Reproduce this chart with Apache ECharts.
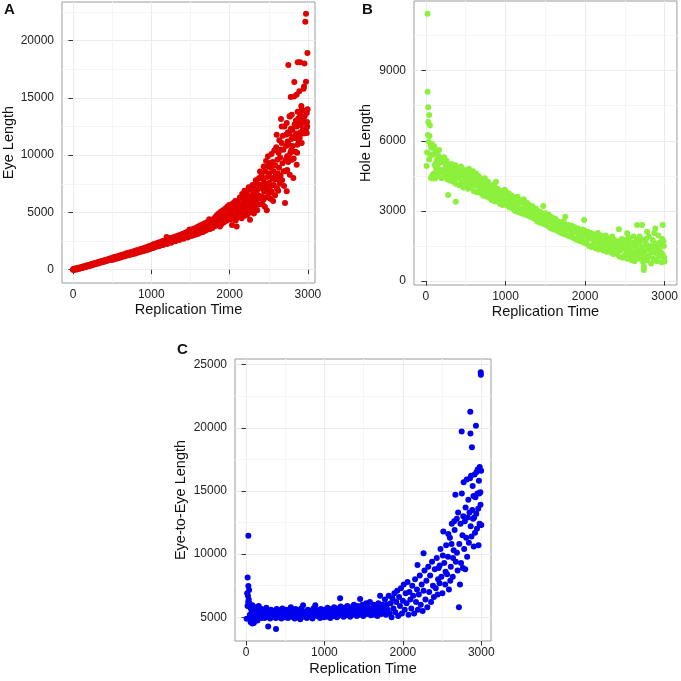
<!DOCTYPE html>
<html>
<head>
<meta charset="utf-8" />
<title></title>
<script src="https://cdn.jsdelivr.net/npm/echarts@6/dist/echarts.min.js"></script>
<style>
  html, body { margin: 0; padding: 0; background: #fff; }
  #divChart { width: 681px; height: 681px; }
</style>
</head>
<body>
<div id="divChart"></div>
<script>
// tick values
let timeTicks = [0, 1000, 2000, 3000];
let timeMinor = [500, 1500, 2500];
let eyeTicks = [0, 5000, 10000, 15000, 20000];
let eyeMinor = [2500, 7500, 12500, 17500, 22500];
let holeTicks = [0, 3000, 6000, 9000];
let holeMinor = [1500, 4500, 7500, 10500];
let e2eTicks = [5000, 10000, 15000, 20000, 25000];
let e2eMinor = [7500, 12500, 17500, 22500];

// A: replication time vs eye length
let eyeLength = [
  [0,0],[5,60],[12,-20],[18,90],[25,30],[32,110],[40,50],[47,20],[55,140],[62,80],[70,170],[77,110],[85,90],
  [92,200],[100,150],[107,230],[115,190],[122,160],[130,270],[137,210],[145,300],[152,240],[160,220],[167,340],
  [175,290],[182,380],[190,320],[197,300],[205,420],[212,350],[220,450],[227,400],[235,370],[242,490],[250,430],
  [257,540],[265,470],[272,450],[280,570],[287,510],[295,600],[302,540],[310,520],[317,650],[325,580],[332,690],
  [340,620],[347,600],[355,720],[362,650],[370,760],[377,690],[385,670],[392,800],[400,720],[407,830],[415,760],
  [422,740],[430,870],[437,800],[445,910],[452,840],[460,820],[467,950],[475,880],[482,990],[490,920],[497,900],
  [505,1000],[512,870],[520,1080],[527,960],[535,1020],[542,1130],[550,950],[557,1070],[565,1160],[572,1000],
  [580,1120],[587,1220],[595,1040],[602,1180],[610,1260],[617,1080],[625,1210],[632,1310],[640,1150],[647,1260],
  [655,1360],[662,1170],[670,1300],[677,1420],[685,1230],[692,1350],[700,1450],[707,1270],[715,1380],[722,1500],
  [730,1300],[737,1430],[745,1530],[752,1350],[760,1470],[767,1600],[775,1390],[782,1520],[790,1640],[797,1420],
  [805,1560],[812,1690],[820,1470],[827,1600],[835,1730],[842,1520],[850,1640],[857,1780],[865,1560],[872,1700],
  [880,1820],[887,1610],[895,1740],[902,1880],[910,1650],[917,1790],[925,1930],[932,1700],[940,1850],[947,1990],
  [955,1740],[962,1900],[970,2040],[977,1790],[985,1940],[992,2100],
  [1000,1880],[1008,2050],[1015,2180],[1023,1900],[1030,2100],[1038,2250],[1045,1960],[1053,2130],[1060,2000],
  [1068,2300],[1075,2080],[1083,2200],[1090,2380],[1098,2050],[1105,2250],[1113,2130],[1120,2420],[1128,2180],
  [1135,2320],[1143,2500],[1150,2150],[1158,2370],[1165,2260],[1173,2560],[1180,2300],[1188,2450],[1196,2850],
  [1195,2620],[1203,2250],[1210,2480],[1218,2380],[1225,2700],[1233,2420],[1240,2580],[1248,2760],[1255,2350],
  [1263,2620],[1270,2500],[1278,2820],[1285,2550],[1293,2700],[1300,2880],[1308,2480],[1315,2750],[1323,2620],
  [1330,2950],[1338,2680],[1345,2820],[1353,3000],[1360,2600],[1368,2880],[1375,2750],[1383,3080],[1390,2800],
  [1398,2950],[1405,3150],[1413,2700],[1420,3000],[1428,2880],[1435,3220],[1443,2920],[1450,3080],[1458,3300],
  [1465,2820],[1473,3150],[1480,3000],[1488,3500],[1495,3050],
  [1503,3250],[1510,2950],[1518,3400],[1525,3100],[1533,3550],[1540,3000],[1548,3300],[1555,3200],[1563,3650],
  [1570,3080],[1578,3420],[1585,3300],[1593,3750],[1600,3150],[1608,3500],[1615,3400],[1623,3850],[1630,3250],
  [1638,3600],[1645,3450],[1653,3950],[1660,3300],[1668,3700],[1675,3550],[1683,4050],[1690,3400],[1698,3800],
  [1705,3650],[1713,4150],[1720,3500],[1728,3900],[1735,3750],[1740,4400],[1743,4250],[1750,3550],[1758,4000],
  [1765,3850],[1773,4350],[1780,3650],[1788,4100],[1795,3950],
  [1800,4450],[1806,3800],[1812,4050],[1818,4600],[1824,4250],[1830,3850],[1836,4750],[1842,4100],[1848,4450],
  [1854,3900],[1860,4900],[1866,4300],[1872,4600],[1877,3780],[1880,4150],[1886,5050],[1892,4450],[1898,4000],
  [1904,4800],[1910,4300],[1916,5200],[1922,4600],[1928,4150],[1934,5000],[1940,4450],[1946,5350],[1952,4250],
  [1958,4900],[1964,4650],[1970,5500],[1976,4350],[1982,5100],[1988,4800],[1994,5650],[2000,4550],[2005,5300],
  [2006,4900],[2012,4400],[2018,5500],[2024,5050],[2030,3900],[2036,4700],[2042,5800],[2048,5200],[2054,4500],
  [2060,5400],[2066,4850],[2072,6000],[2078,4300],[2084,5150],[2090,3780],[2090,5600],[2096,4700],[2100,5250],
  [2106,6000],[2112,4600],[2118,5400],[2124,5000],[2130,6300],[2136,4800],[2142,5700],[2148,5200],[2154,4500],
  [2160,6600],[2166,5500],[2172,4900],[2178,6100],[2184,5300],[2190,6900],[2196,4700],[2202,5800],[2208,6400],
  [2214,5100],[2218,5670],[2220,6700],[2226,4800],[2232,6000],[2238,5400],[2244,7200],[2250,5700],[2256,5000],
  [2260,4360],[2262,6400],[2268,7000],[2274,5500],[2280,6100],[2286,5200],[2292,7400],[2298,6600],[2304,5800],
  [2310,4900],[2316,7100],[2322,6300],[2328,5400],[2334,7800],[2340,6000],[2346,6900],[2352,5200],[2358,7500],
  [2364,6500],[2370,5700],[2376,8000],[2382,7100],[2388,8580],[2394,6200],[2400,7400],
  [2405,6400],[2410,8300],[2415,7200],[2420,5700],[2425,7900],[2430,6110],[2435,9000],[2440,6800],[2445,7600],
  [2450,5500],[2455,8600],[2460,7300],[2465,9500],[2470,6300],[2475,5200],[2480,8100],[2485,7000],[2490,9900],
  [2494,9030],[2500,6600],[2505,8400],[2510,7600],[2516,9310],[2520,6200],[2525,8900],[2530,7300],[2535,10100],
  [2540,6800],[2545,8000],[2550,9400],[2555,6000],[2560,8600],[2565,7400],[2570,10400],[2575,7900],[2580,6500],
  [2585,9100],[2590,8300],[2595,10700],[2601,11790],[2605,7100],[2610,9600],[2615,8400],[2620,6900],[2622,7860],
  [2625,10200],[2630,8900],[2635,11300],[2640,7500],[2645,9800],[2650,8200],[2656,13150],[2660,10500],[2665,11060],
  [2665,12510],[2670,7800],[2675,9300],[2680,11700],[2686,10480],[2690,8600],[2695,7300],[2700,12500],
  [2707,5820],[2710,8600],[2715,9600],[2720,10800],[2725,11800],[2729,6840],[2729,12800],[2733,9900],[2735,8700],
  [2740,11200],[2745,12000],[2748,9400],[2750,17870],[2755,9900],[2758,10900],[2762,11900],[2765,13400],[2768,8300],
  [2771,13380],[2775,10200],[2780,15080],[2783,12300],[2785,10400],[2790,11400],[2793,13530],[2796,9600],[2800,12200],
  [2805,10800],[2810,11600],[2814,8000],[2818,9700],[2822,15130],[2826,16390],[2830,12700],[2835,11500],[2840,10300],
  [2845,13000],[2850,11900],[2855,15280],[2856,9170],[2856,12510],[2862,10200],[2865,10900],[2868,13800],[2870,18100],
  [2875,13200],[2880,11300],[2885,11800],[2888,12900],[2890,15570],[2895,11500],[2900,18100],[2900,13530],[2905,12000],
  [2910,12600],[2915,14300],[2920,13970],[2920,11060],[2925,12900],[2930,13300],[2935,12200],[2941,13900],[2945,15800],
  [2948,11900],[2950,16000],[2955,18000],[2958,13400],[2960,12900],[2966,21650],[2970,12100],[2975,22350],[2975,16410],
  [2980,12400],[2985,13680],[2985,11930],[2988,12900],[2990,12510],[2993,18920],[2995,14000]
];

// B: replication time vs hole length
let holeLength = [
  [20,11430],[21,8100],[29,7430],[41,7100],[30,6800],[50,6650],[25,6250],[45,6200],[35,5960],[8,4920],
  [60,5800],[70,5700],[15,5500],[55,5400],[80,5850],[40,5200],[71,4460],[112,4390],[95,4500],[130,4450],
  [150,4600],[279,3680],[375,3390],[65,4400],[85,4550],[105,5750],[125,5050],[145,4850],[165,5600],[185,4750],
  [90,5400],[100,4600],[110,4950],[120,5550],[130,4800],[140,5200],[150,4500],[160,5350],[170,5050],[180,4650],[190,5250],
  [200,4400],[205,4650],[210,5100],[220,4750],[230,5300],[235,5150],[240,4550],[250,4950],[260,5150],[265,4600],
  [270,4350],[280,4800],[290,5000],[295,4450],
  [300,4300],[310,4850],[320,4600],[325,4450],[330,5000],[340,4250],[350,4700],[355,4800],[360,4450],[370,4950],
  [380,4150],[385,4400],[390,4600],
  [400,4850],[410,4400],[415,4750],[420,4100],[430,4650],[440,4900],[445,4500],[450,4250],[460,4550],[470,4000],
  [475,4700],[480,4750],[490,4350],
  [500,4100],[505,4450],[510,4650],[520,4300],[530,3950],[535,4250],[540,4800],[550,4450],[560,4050],[565,4650],
  [570,4550],[580,4200],[590,4700],[595,4350],
  [600,3850],[610,4400],[620,4100],[625,4250],[630,4600],[640,3800],[650,4250],[655,4100],[660,4500],[670,3900],
  [680,4150],[685,4400],[690,3750],
  [700,4300],[710,3950],[715,4100],[720,3650],[730,4150],[740,4400],[745,3850],[750,3750],[760,4050],[770,3600],
  [775,4000],[780,4250],[790,3850],
  [800,3550],[805,3950],[810,4100],[820,3800],[830,3450],[835,3700],[840,3950],[850,3700],[860,4150],[865,3800],
  [870,3400],[880,4250],[883,3900],[890,3600],
  [900,3950],[910,3400],[920,3700],[930,3300],[940,3850],[950,3550],[960,3250],[970,3750],[980,3450],[990,3900],
  [1000,3820],[1010,3250],[1020,3600],[1030,3400],[1040,3750],[1050,3150],[1060,3500],[1070,3300],[1080,3650],[1090,3100],
  [1100,3550],[1110,3200],[1120,3000],[1130,3450],[1140,3250],[1150,3600],[1160,2950],[1170,3350],[1180,3100],[1190,3450],
  [1200,2900],[1210,3350],[1220,3050],[1230,3500],[1240,2850],[1250,3200],[1260,3000],[1270,3350],[1280,2800],[1290,3150],
  [1300,3250],[1310,2750],[1320,3050],[1330,2900],[1340,3200],[1350,2700],[1360,3000],[1370,2650],[1380,3100],[1390,2850],
  [1400,2550],[1410,3000],[1420,2750],[1430,2500],[1440,2950],[1450,2650],[1460,2850],[1470,2450],[1475,3210],
  [1480,2750],[1490,2550],
  [1500,2900],[1510,2400],[1520,2700],[1530,2550],[1540,2850],[1550,2300],[1560,2600],[1570,2750],[1580,2250],[1590,2500],
  [1600,2700],[1610,2200],[1620,2450],[1630,2650],[1640,2300],[1650,2150],[1660,2550],[1670,2350],[1680,2100],[1690,2500],
  [1700,2050],[1710,2450],[1720,2250],[1730,2550],[1740,2000],[1750,2750],[1755,2300],[1760,2150],[1770,2400],
  [1780,1950],[1790,2250],
  [1800,2400],[1810,1900],[1820,2200],[1830,2050],[1840,2350],[1850,1850],[1860,2100],[1870,2300],[1880,1800],[1890,2150],
  [1900,1750],[1910,2250],[1920,1950],[1930,2150],[1940,1700],[1950,2050],[1960,1850],[1970,2200],[1980,1650],
  [1988,2610],[1990,1950],
  [2000,2150],[2010,1600],[2020,1900],[2030,1750],[2040,2100],[2050,1500],[2060,1850],[2070,2050],[2080,1450],[2090,1800],
  [2100,1550],[2110,2000],[2120,1700],[2130,1400],[2140,1900],[2150,1650],[2160,2050],[2170,1350],[2180,1800],[2190,1550],
  [2200,1950],[2210,1400],[2220,1700],[2230,1300],[2240,1850],[2250,1550],[2260,1950],[2270,1250],[2280,1650],[2290,1450],
  [2300,1800],[2310,1250],[2320,1600],[2330,1400],[2340,1900],[2350,1150],[2360,1500],[2370,1750],[2380,1300],[2390,1600],
  [2400,1150],[2410,1700],[2420,1400],[2425,2210],[2430,1050],[2440,1600],[2450,1300],[2460,1800],[2470,1000],
  [2480,1450],[2490,1650],
  [2500,1100],[2505,1450],[2510,1750],[2520,1300],[2529,2040],[2530,950],[2535,1200],[2540,1550],[2550,1850],
  [2560,1150],[2565,1650],[2570,1400],[2580,900],[2590,1650],[2595,1050],
  [2600,1250],[2610,1900],[2620,850],[2625,1550],[2630,1500],[2640,1100],[2650,1750],[2654,2400],[2655,1200],
  [2660,1350],[2670,950],[2680,1600],[2685,1900],[2690,1200],
  [2700,1800],[2705,1300],[2710,1000],[2716,2400],[2720,1450],[2730,800],[2735,1150],[2738,470],[2740,610],
  [2745,1250],[2750,1700],[2760,1050],[2765,1800],[2770,1550],[2779,2110],[2780,900],[2790,1350],[2795,1050],
  [2800,1900],[2810,1100],[2820,1500],[2825,1350],[2830,750],[2840,1300],[2850,1750],[2855,1500],[2860,950],
  [2870,2050],[2880,1200],[2883,2250],[2885,900],[2890,1600],
  [2900,850],[2910,1400],[2915,1250],[2920,1950],[2930,1050],[2940,1650],[2945,1500],[2950,1250],[2960,800],
  [2965,1150],[2970,1800],[2975,2400],[2980,1100],[2985,1700],[2990,1500],[2995,1000],[3000,830]
];

// C: replication time vs eye-to-eye length
let eyeToEye = [
  [30,11460],[21,8140],[30,7480],[40,7160],[25,6710],[35,6400],[45,6100],[20,5900],[8,4880],[60,5800],[70,5600],
  [80,4500],[100,4550],[60,4600],[283,4260],[383,4070],[15,6900],[28,6200],
  [50,5200],[58,5750],[66,4850],[74,5450],[82,5950],[90,5050],[98,4650],[106,5600],[114,5300],[122,4900],[130,5800],
  [138,5150],[146,4750],[154,5500],[162,5900],[170,5000],[178,5350],[186,5700],[194,4950],[202,5450],[212,5150],
  [224,5600],[236,4950],[248,5350],[260,5750],[272,5050],[284,5450],[296,5200],[308,4900],[320,5600],[332,5300],
  [344,5050],[356,5500],[368,5200],[380,4950],[392,5650],[404,5300],[416,5000],[428,5550],[440,5250],[452,4900],
  [464,5700],[476,5100],[488,5400],[500,5000],[512,5600],[524,5250],[536,4950],[548,5500],[560,5150],[572,5800],
  [584,5050],[596,5400],[608,5200],[620,4900],[632,5650],[644,5300],[656,5000],[668,5550],[680,5200],[692,4850],
  [704,5700],[716,5350],[728,5950],[740,5050],[752,5450],[764,5200],[776,4950],[788,5600],[800,5300],[812,5050],
  [824,5500],[836,5250],[848,4900],[860,5700],[872,5150],[884,5950],[896,5400],[908,5100],[920,5550],[932,5300],
  [944,4950],[956,5650],[968,5200],[980,5450],[992,5000],[1004,5600],[1016,5300],[1028,5050],[1040,5750],[1052,5200],
  [1064,5500],[1076,4950],[1088,5650],[1100,5350],[1112,5100],[1124,5800],[1136,5250],[1148,5550],[1160,5000],
  [1172,5700],[1184,5400],[1196,5150],[1200,6500],[1208,5850],[1220,5300],[1232,5600],[1244,5050],[1256,5750],
  [1268,5400],[1280,5150],[1292,5900],[1304,5300],[1316,5600],[1328,5050],[1340,5800],[1352,5450],[1364,5200],
  [1376,6000],[1388,5350],[1400,5650],[1412,5100],[1424,5900],[1436,5450],[1448,5200],[1455,6450],[1460,5750],
  [1472,5350],[1484,6000],[1496,5100],[1508,5650],[1520,5400],[1532,6100],[1544,5250],[1556,5800],[1568,5500],
  [1580,6200],[1592,5150],[1604,5700],[1616,5400],[1628,6000],[1640,5200],[1652,5850],[1664,5500],[1676,5100],
  [1688,6100],[1700,5400],[1710,6700],[1712,5750],[1724,5250],[1736,6000],[1748,5550],
  [1760,5800],[1772,6400],[1784,5200],[1796,6000],[1808,5600],[1820,6700],[1832,5300],[1844,6100],[1856,5000],
  [1868,6500],[1880,5700],[1892,6900],[1904,5400],[1916,6200],[1928,7100],[1940,5100],[1952,6600],[1964,5900],
  [1976,7300],[1988,5300],[2000,6300],[2012,7600],[2024,5600],[2036,6900],[2048,6100],[2060,7800],[2072,5200],
  [2084,7000],[2096,6400],[2108,5700],[2120,7500],[2132,6700],[2144,5300],[2156,8000],[2168,6200],[2180,7200],
  [2187,9140],[2192,5600],[2204,6800],[2216,8300],[2228,6000],[2240,7600],[2252,5500],[2264,10070],[2264,7100],
  [2276,8700],[2288,6400],[2300,7900],[2312,5800],[2324,9000],[2336,7000],[2348,8300],[2360,6200],[2372,9400],
  [2384,7500],[2396,6600],[2408,8800],
  [2420,7300],[2432,9700],[2444,6800],[2450,8000],[2456,8900],[2468,7700],[2470,9100],[2480,10400],[2492,8200],
  [2504,6900],[2510,9900],[2516,11800],[2528,9300],[2540,7600],[2545,8600],[2552,10700],[2564,8400],[2576,9800],
  [2580,11600],[2588,7200],[2600,11300],[2605,7900],[2612,9000],[2620,10800],[2624,12400],[2636,8200],[2640,9700],
  [2648,10300],[2655,12600],[2660,11900],[2670,14700],[2675,9400],[2688,12800],[2690,10100],[2698,8700],
  [2705,13300],[2715,5800],[2720,10800],[2728,7600],[2735,12400],[2742,9300],[2750,19700],[2752,14800],[2760,11500],
  [2765,8900],[2770,13000],[2775,15700],[2782,10400],[2790,12600],[2795,8800],[2800,13700],[2808,11300],[2815,15900],
  [2820,9800],[2828,12900],[2835,14300],[2842,10900],[2850,13300],[2856,16000],[2860,21280],[2862,19560],[2865,12200],
  [2870,16200],[2875,11400],[2881,18460],[2885,13500],[2890,15400],[2895,12800],[2900,14600],[2905,10600],[2910,12900],
  [2915,16300],[2920,11700],[2925,14500],[2932,20170],[2936,13200],[2940,16500],[2945,12000],[2950,14800],[2955,16700],
  [2960,13600],[2965,10700],[2970,15800],[2975,14800],[2978,12400],[2980,16900],[2985,12300],[2988,14900],[2990,13900],
  [2993,24400],[2995,24200],[2998,16600],[3000,12300]
];

const FONT = 'Liberation Sans';
const labelStyle = { color: '#222', fontSize: 12, fontFamily: FONT };
const nameStyle = { color: '#111', fontSize: 14.5, fontFamily: FONT };
const plain = function (v) { return String(v); };

function xAxisMain(grid, min, max, gap) {
  return {
    type: 'value', gridIndex: grid, min: min, max: max,
    name: 'Replication Time', nameLocation: 'middle', nameGap: gap, nameTextStyle: nameStyle,
    axisLine: { show: false },
    axisTick: { show: true, length: 4.5, customValues: timeTicks, lineStyle: { color: '#333' } },
    axisLabel: Object.assign({ margin: 6, customValues: timeTicks, formatter: plain }, labelStyle),
    splitLine: { show: true, lineStyle: { color: '#ebebeb', width: 1 } }
  };
}
function yAxisMain(grid, min, max, ticks, name, gap) {
  return {
    type: 'value', gridIndex: grid, min: min, max: max,
    name: name, nameLocation: 'middle', nameGap: gap, nameRotate: 90, nameTextStyle: nameStyle,
    axisLine: { show: false },
    axisTick: { show: true, length: 4.5, customValues: ticks, lineStyle: { color: '#333' } },
    axisLabel: Object.assign({ margin: 8, customValues: ticks, formatter: plain }, labelStyle),
    splitLine: { show: true, lineStyle: { color: '#ebebeb', width: 1 } }
  };
}
// hidden axes that only carry the faint minor grid
function minorAxis(grid, min, max, ticks) {
  return {
    type: 'value', gridIndex: grid, min: min, max: max,
    axisLine: { show: false },
    axisTick: { show: false, customValues: ticks },
    axisLabel: { show: false, customValues: ticks },
    splitLine: { show: true, lineStyle: { color: '#f5f5f5', width: 1 } }
  };
}

const gridStyle = { show: true, backgroundColor: '#fff', borderColor: '#9a9a9a', borderWidth: 1 };

let option = {
  animation: false,
  backgroundColor: '#fff',
  grid: [
    Object.assign({ left: 62, top: 2, width: 253, height: 281 }, gridStyle),
    Object.assign({ left: 414, top: 1, width: 264, height: 284 }, gridStyle),
    Object.assign({ left: 235, top: 359, width: 256, height: 282 }, gridStyle)
  ],
  xAxis: [
    xAxisMain(0, -140, 3090, 19),
    xAxisMain(1, -150, 3154, 19),
    xAxisMain(2, -140, 3124, 20),
    minorAxis(0, -140, 3090, timeMinor),
    minorAxis(1, -150, 3154, timeMinor),
    minorAxis(2, -140, 3124, timeMinor)
  ],
  yAxis: [
    yAxisMain(0, -1160, 23370, eyeTicks, 'Eye Length', 46),
    yAxisMain(1, -171, 11980, holeTicks, 'Hole Length', 41),
    yAxisMain(2, 3120, 25450, e2eTicks, 'Eye-to-Eye Length', 47),
    minorAxis(0, -1160, 23370, eyeMinor),
    minorAxis(1, -171, 11980, holeMinor),
    minorAxis(2, 3120, 25450, e2eMinor)
  ],
  graphic: [
    { type: 'text', left: 4, top: 2, style: { text: 'A', font: 'bold 15px "Liberation Sans"', fill: '#111' } },
    { type: 'text', left: 362, top: 2, style: { text: 'B', font: 'bold 15px "Liberation Sans"', fill: '#111' } },
    { type: 'text', left: 177, top: 342, style: { text: 'C', font: 'bold 15px "Liberation Sans"', fill: '#111' } }
  ],
  series: [
    { type: 'scatter', xAxisIndex: 0, yAxisIndex: 0, data: eyeLength, symbolSize: 6, itemStyle: { color: '#e00000', opacity: 1 } },
    { type: 'scatter', xAxisIndex: 1, yAxisIndex: 1, data: holeLength, symbolSize: 6, itemStyle: { color: '#8cf03c', opacity: 1 } },
    { type: 'scatter', xAxisIndex: 2, yAxisIndex: 2, data: eyeToEye, symbolSize: 6, itemStyle: { color: '#0000ee', opacity: 1 } }
  ]
};

echarts.init(document.getElementById('divChart')).setOption(option);
</script>
</body>
</html>
